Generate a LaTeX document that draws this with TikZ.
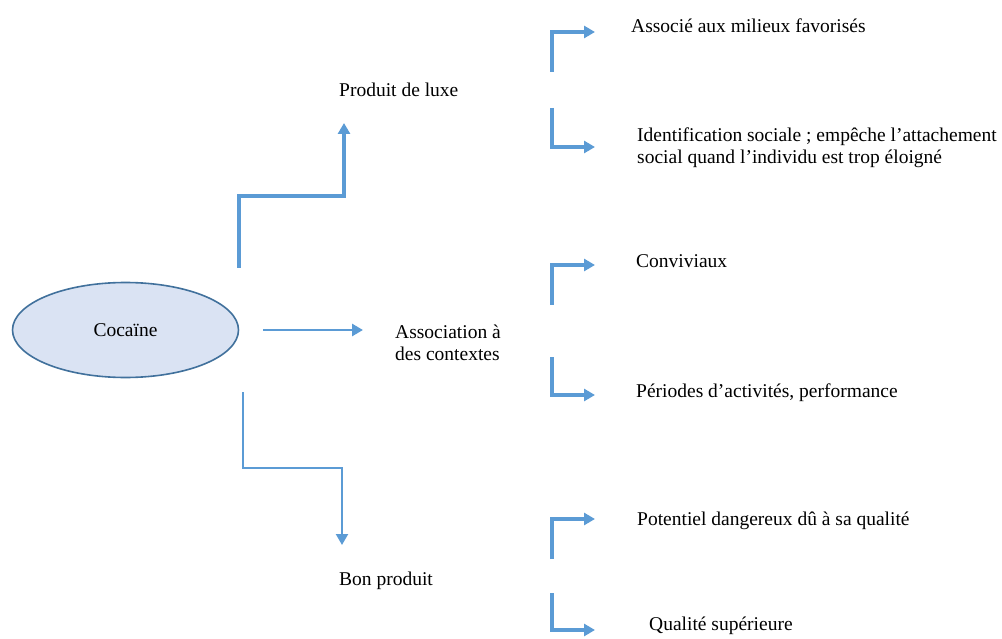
\documentclass[tikz,border=0pt]{standalone}
\usepackage{fontspec}
\setmainfont{Liberation Serif}
\usetikzlibrary{arrows.meta,shapes.geometric}
\definecolor{arrowblue}{RGB}{91,155,213}
\definecolor{ellfill}{RGB}{218,227,243}
\definecolor{ellline}{RGB}{65,113,156}
\tikzset{
  arr/.style={draw=arrowblue, line width=3.2pt, -{Triangle[length=11pt,width=12pt]}},
  lbl/.style={anchor=base west, inner sep=0pt, align=left,
    font=\fontsize{19.5}{22}\selectfont},
}

\begin{document}
\begin{tikzpicture}[x=1pt,y=-1pt]
  \useasboundingbox (0,0) rectangle (1002,639);

  \node[ellipse, draw=ellline, fill=ellfill, line width=1.6pt,
    minimum width=226pt, minimum height=95pt,
    font=\fontsize{19.5}{22}\selectfont] (coca) at (125.5,330) {Cocaïne};

  \node[lbl] (luxe) at (339,97) {Produit de luxe};
  \node[lbl] (assoc) at (395,360) {Association à\\des contextes};
  \node[lbl] (bon) at (339,585) {Bon produit};

  \node[lbl] (fav) at (631,33) {Associé aux milieux favorisés};
  \node[lbl] (ident) at (637,164) {Identification sociale ; empêche l’attachement\\social quand l’individu est trop éloigné};
  \node[lbl] (conv) at (636,268) {Conviviaux};
  \node[lbl] (perf) at (636,397) {Périodes d’activités, performance};
  \node[lbl] (dang) at (637,525) {Potentiel dangereux dû à sa qualité};
  \node[lbl] (qual) at (649,630) {Qualité supérieure};

  % branches from the ellipse
  \coordinate (luxS) at (239,268);
  \coordinate (luxE) at (344,123);
  \draw[arr] (luxS) -- ++(0,-72) -| (luxE);

  \coordinate (midS) at (263,330);
  \coordinate (midE) at (363,330);
  \draw[arr, line width=2.7pt] (midS) -- (midE);

  \coordinate (bonS) at (243,392);
  \coordinate (bonE) at (342,545);
  \draw[arr, line width=2.2pt] (bonS) -- ++(0,76) -| (bonE);

  % small brackets
  \foreach \s/\e [count=\i] in {72/32,108/147,305/265,357/395,559/519,593/630}{
    \coordinate (br\i s) at (552,\s);
    \coordinate (br\i e) at (595,\e);
    \draw[arr] (br\i s) |- (br\i e);
  }
\end{tikzpicture}
\end{document}
